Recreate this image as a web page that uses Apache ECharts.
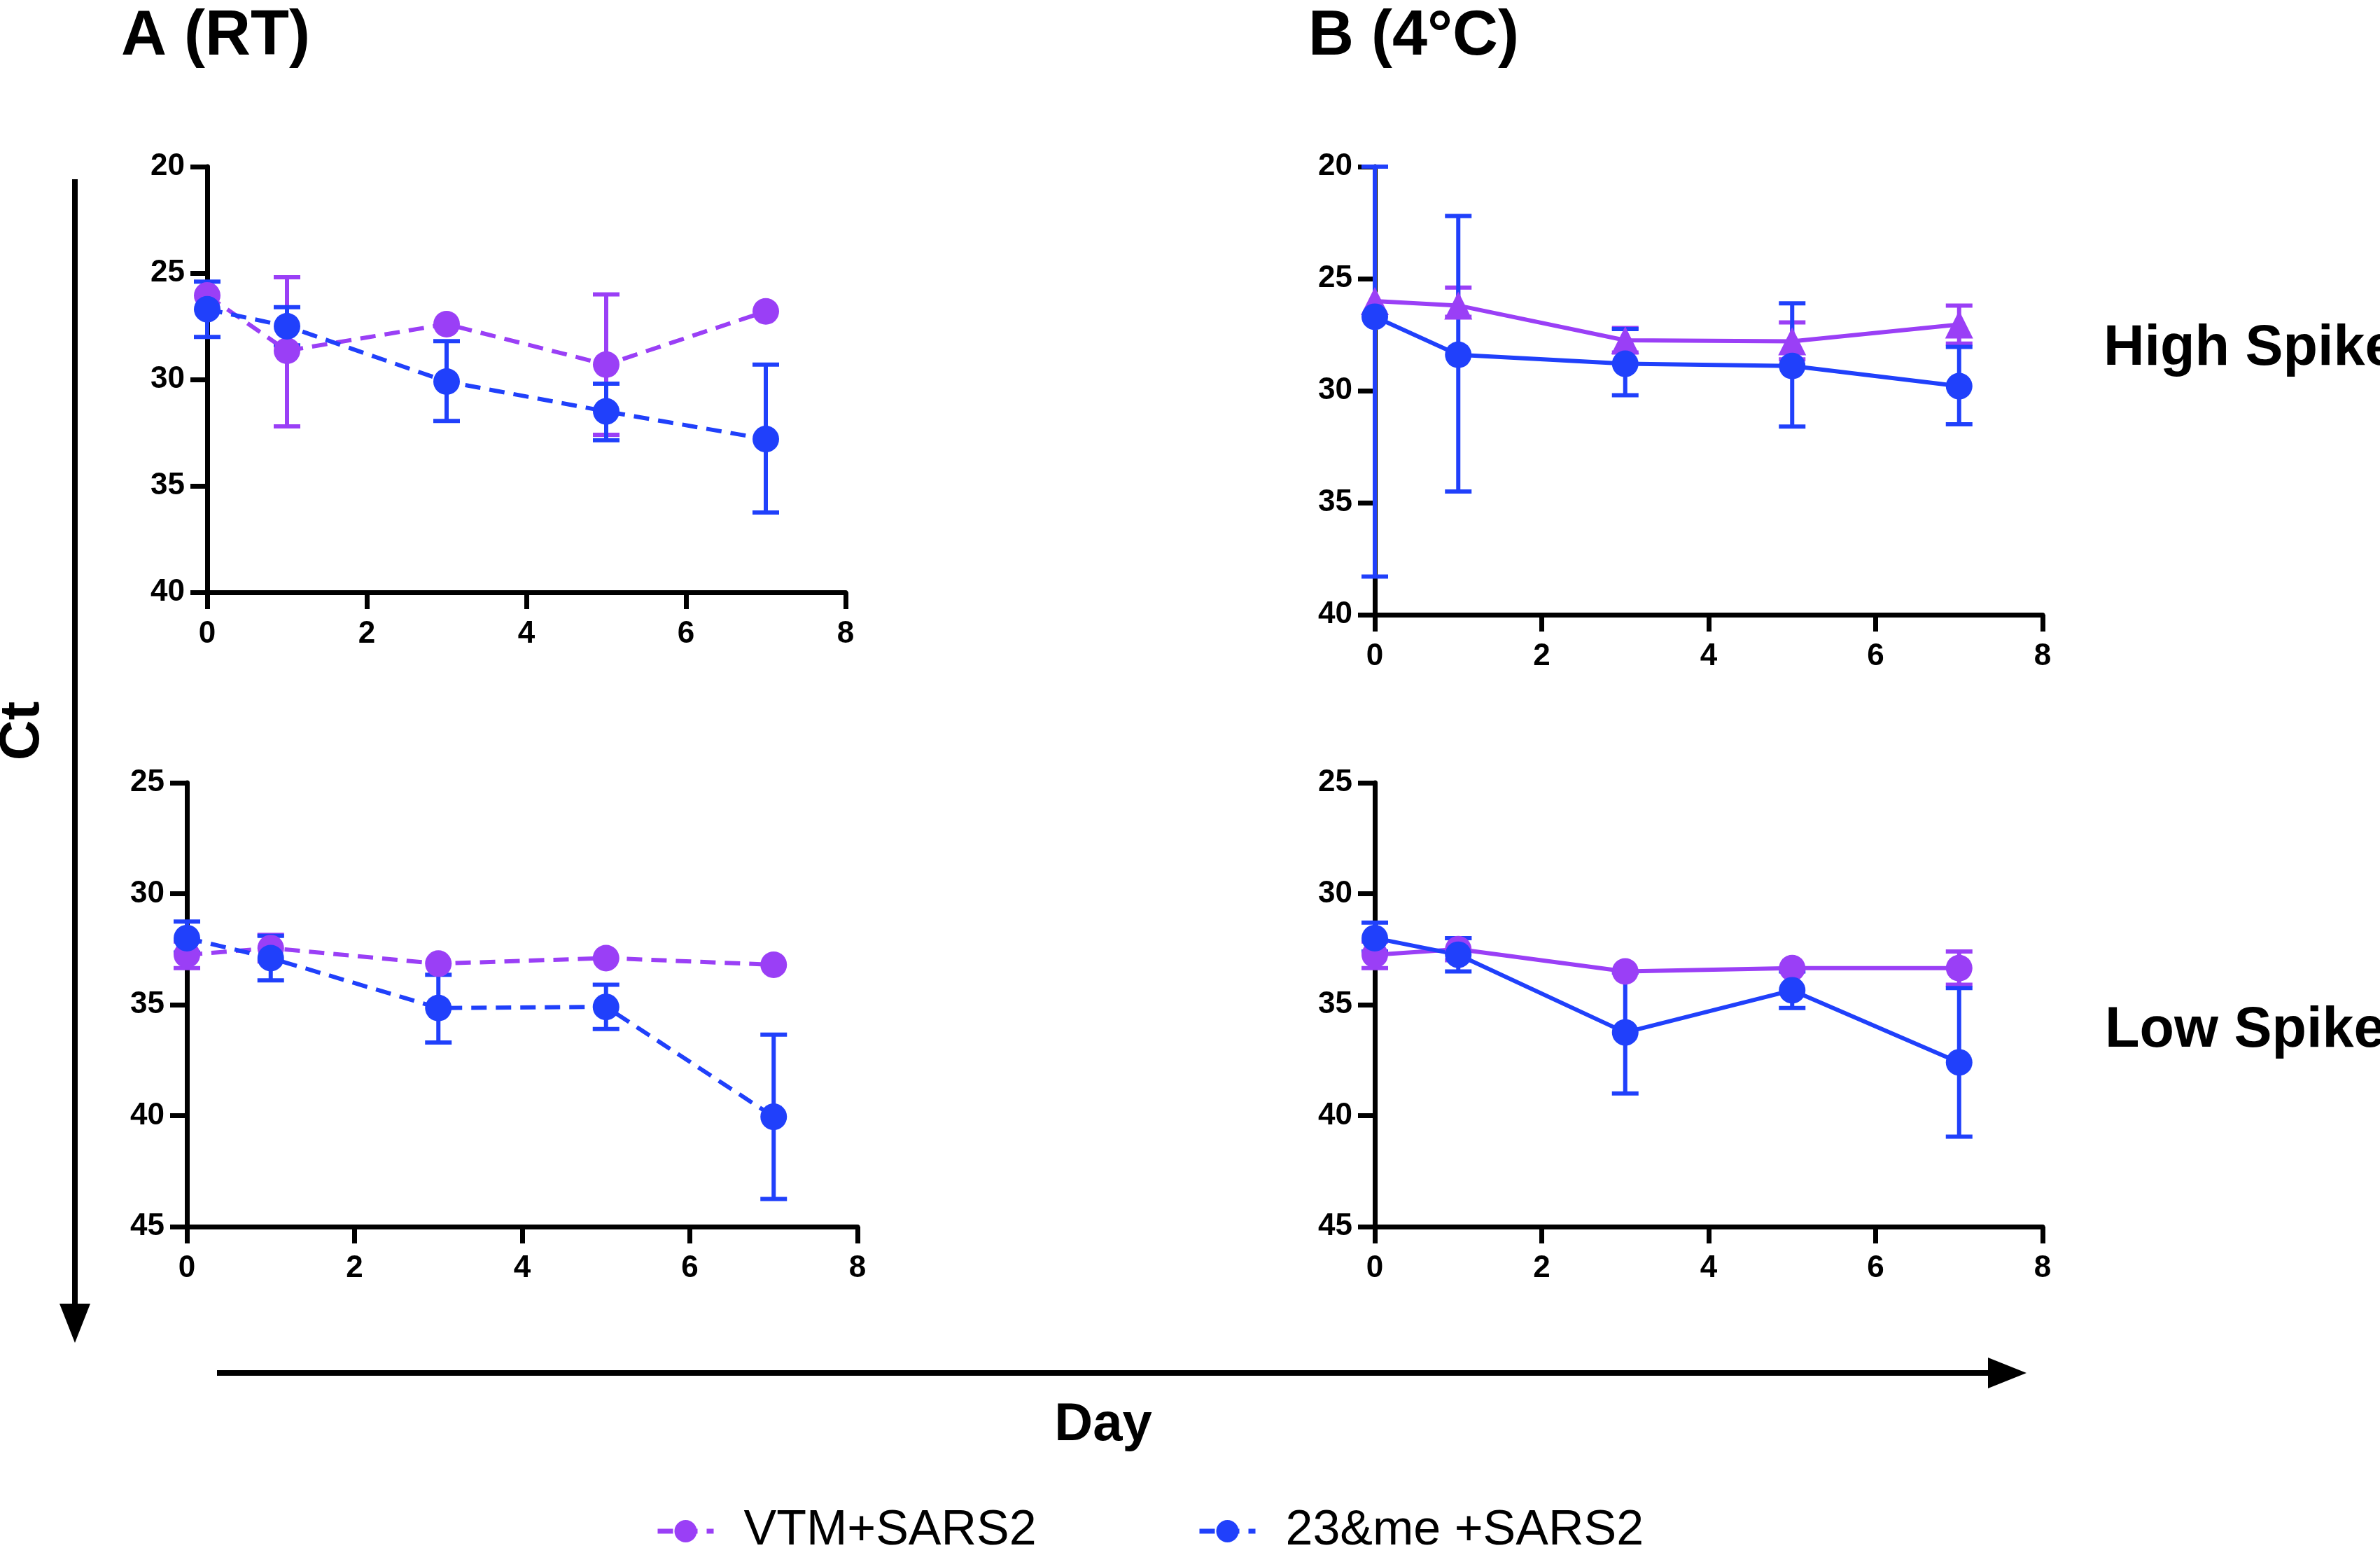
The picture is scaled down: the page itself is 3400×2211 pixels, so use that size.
<!DOCTYPE html>
<html>
<head>
<meta charset="utf-8">
<script src="https://cdn.jsdelivr.net/npm/echarts@6/dist/echarts.min.js"></script>
<style>
html,body{margin:0;padding:0;background:#fff;}
#chart{width:3400px;height:2211px;}
</style>
</head>
<body>
<div id="chart"></div>
<script>
// ---------------- DATA ----------------
const days = [0, 1, 3, 5, 7];
const seriesNames = ['VTM+SARS2', '23&me +SARS2'];
const panelTitles = ['A (RT)', 'B (4\u00B0C)'];
const rowLabels = ['High Spike', 'Low Spike'];
const yAxisTitle = 'Ct';
const xAxisTitle = 'Day';

// Panel A, High Spike (RT)
const aHighVtmMean = [26.05, 28.65, 27.4, 29.3, 26.8];
const aHighVtmLow  = [null, 25.2, null, 26.0, null];
const aHighVtmHigh = [null, 32.2, null, 32.6, null];
const aHighMeMean  = [26.7, 27.5, 30.1, 31.5, 32.8];
const aHighMeLow   = [25.4, 26.6, 28.2, 30.2, 29.3];
const aHighMeHigh  = [28.0, 28.4, 31.95, 32.85, 36.25];

// Panel B, High Spike (4°C)
const bHighVtmMean = [26.0, 26.2, 27.75, 27.8, 27.05];
const bHighVtmLow  = [null, 25.4, 27.2, 26.95, 26.2];
const bHighVtmHigh = [null, 26.7, 28.3, 28.6, 27.9];
const bHighMeMean  = [26.7, 28.4, 28.8, 28.9, 29.8];
const bHighMeLow   = [20.0, 22.2, 27.25, 26.1, 28.05];
const bHighMeHigh  = [38.3, 34.5, 30.2, 31.6, 31.5];

// Panel A, Low Spike (RT)
const aLowVtmMean = [32.75, 32.45, 33.15, 32.9, 33.2];
const aLowVtmLow  = [32.15, 31.85, null, null, null];
const aLowVtmHigh = [33.35, 33.05, null, null, null];
const aLowMeMean  = [32.0, 32.9, 35.15, 35.1, 40.05];
const aLowMeLow   = [31.25, 31.9, 33.65, 34.1, 36.35];
const aLowMeHigh  = [32.65, 33.9, 36.7, 36.1, 43.75];

// Panel B, Low Spike (4°C)
const bLowVtmMean = [32.75, 32.5, 33.5, 33.35, 33.35];
const bLowVtmLow  = [32.15, 32.0, null, null, 32.6];
const bLowVtmHigh = [33.35, 33.0, null, null, 34.1];
const bLowMeMean  = [32.0, 32.75, 36.25, 34.35, 37.6];
const bLowMeLow   = [31.3, 32.0, 33.55, 33.5, 34.25];
const bLowMeHigh  = [32.6, 33.5, 39.0, 35.15, 40.95];

// ---------------- STYLE / LAYOUT ----------------
const PURPLE = '#9a3ff6';
const BLUE = '#2040fb';
const FONT = '"Liberation Sans", Arial, Helvetica, sans-serif';

const panels = [
  { grid: {left: 296, top: 238, width: 912, height: 608}, yMin: 20, yMax: 40, dashed: true, vtmSymbol: 'circle',
    vtm: [aHighVtmMean, aHighVtmLow, aHighVtmHigh], me: [aHighMeMean, aHighMeLow, aHighMeHigh] },
  { grid: {left: 1964, top: 238, width: 954, height: 640}, yMin: 20, yMax: 40, dashed: false, vtmSymbol: 'triangle',
    vtm: [bHighVtmMean, bHighVtmLow, bHighVtmHigh], me: [bHighMeMean, bHighMeLow, bHighMeHigh] },
  { grid: {left: 267, top: 1118, width: 958, height: 634}, yMin: 25, yMax: 45, dashed: true, vtmSymbol: 'circle',
    vtm: [aLowVtmMean, aLowVtmLow, aLowVtmHigh], me: [aLowMeMean, aLowMeLow, aLowMeHigh] },
  { grid: {left: 1964, top: 1118, width: 954, height: 634}, yMin: 25, yMax: 45, dashed: false, vtmSymbol: 'circle',
    vtm: [bLowVtmMean, bLowVtmLow, bLowVtmHigh], me: [bLowMeMean, bLowMeLow, bLowMeHigh] }
];

const axisLine = {show: true, onZero: false, lineStyle: {color: '#000', width: 7}};
const axisTick = {show: true, inside: false, length: 24, lineStyle: {color: '#000', width: 7}};

function errData(mean, lo, hi) {
  const out = [];
  days.forEach((d, i) => { if (lo[i] != null && hi[i] != null) out.push([d, lo[i], hi[i]]); });
  return out;
}
function lineData(mean) { return days.map((d, i) => [d, mean[i]]); }

function errSeries(idx, data, color) {
  return {
    type: 'custom', xAxisIndex: idx, yAxisIndex: idx, data: data, silent: true,
    encode: {x: 0, y: [1, 2]},
    renderItem: function (params, api) {
      const x = api.value(0);
      const p1 = api.coord([x, api.value(1)]);
      const p2 = api.coord([x, api.value(2)]);
      const hw = 19;
      const st = {stroke: color, lineWidth: 6};
      return {type: 'group', children: [
        {type: 'line', shape: {x1: p1[0], y1: p1[1], x2: p2[0], y2: p2[1]}, style: st},
        {type: 'line', shape: {x1: p1[0] - hw, y1: p1[1], x2: p1[0] + hw, y2: p1[1]}, style: st},
        {type: 'line', shape: {x1: p2[0] - hw, y1: p2[1], x2: p2[0] + hw, y2: p2[1]}, style: st}
      ]};
    }
  };
}

function lineSeries(idx, name, data, color, symbol, dashed) {
  return {
    type: 'line', name: name, xAxisIndex: idx, yAxisIndex: idx, data: data,
    symbol: symbol, symbolSize: symbol === 'triangle' ? 40 : 38,
    itemStyle: {color: color},
    lineStyle: {color: color, width: 6, type: dashed ? [22, 13] : 'solid'},
    z: 3
  };
}

const grids = [], xAxes = [], yAxes = [], series = [];
panels.forEach((p, i) => {
  grids.push(Object.assign({containLabel: false}, p.grid));
  xAxes.push({
    type: 'value', gridIndex: i, min: 0, max: 8, interval: 2,
    axisLine: axisLine, axisTick: axisTick, splitLine: {show: false},
    axisLabel: {color: '#000', fontFamily: FONT, fontWeight: 'bold', fontSize: 44, margin: 38}
  });
  yAxes.push({
    type: 'value', gridIndex: i, min: p.yMin, max: p.yMax, interval: 5, inverse: true,
    axisLine: axisLine, axisTick: axisTick, splitLine: {show: false},
    axisLabel: {color: '#000', fontFamily: FONT, fontWeight: 'bold', fontSize: 44, margin: 32}
  });
  series.push(errSeries(i, errData(p.vtm[0], p.vtm[1], p.vtm[2]), PURPLE));
  series.push(lineSeries(i, seriesNames[0], lineData(p.vtm[0]), PURPLE, p.vtmSymbol, p.dashed));
  series.push(errSeries(i, errData(p.me[0], p.me[1], p.me[2]), BLUE));
  series.push(lineSeries(i, seriesNames[1], lineData(p.me[0]), BLUE, 'circle', p.dashed));
});

const legendCommon = {
  orient: 'horizontal', top: 2147, itemWidth: 80, itemHeight: 40,
  lineStyle: {width: 7},
  textStyle: {color: '#000', fontFamily: FONT, fontSize: 70, padding: [0, 0, 0, 38]},
  selectedMode: false
};

const option = {
  animation: false,
  backgroundColor: '#fff',
  grid: grids,
  xAxis: xAxes,
  yAxis: yAxes,
  series: series,
  legend: [
    Object.assign({}, legendCommon, {left: 931, data: [seriesNames[0]]}),
    Object.assign({}, legendCommon, {left: 1705, data: [seriesNames[1]]})
  ],
  graphic: [
    {type: 'text', left: 173, top: 8, style: {text: panelTitles[0], font: 'bold 90px ' + FONT, fill: '#000'}},
    {type: 'text', left: 1869, top: 8, style: {text: panelTitles[1], font: 'bold 90px ' + FONT, fill: '#000'}},
    {type: 'text', x: 3005, y: 499, style: {text: rowLabels[0], font: 'bold 81px ' + FONT, fill: '#000', textAlign: 'left', textVerticalAlign: 'middle'}},
    {type: 'text', x: 3007, y: 1473, style: {text: rowLabels[1], font: 'bold 81px ' + FONT, fill: '#000', textAlign: 'left', textVerticalAlign: 'middle'}},
    {type: 'text', x: 33, y: 1044, rotation: Math.PI / 2, style: {text: yAxisTitle, font: 'bold 80px ' + FONT, fill: '#000', textAlign: 'center', textVerticalAlign: 'middle'}},
    {type: 'text', x: 1576, y: 2036, style: {text: xAxisTitle, font: 'bold 76px ' + FONT, fill: '#000', textAlign: 'center', textVerticalAlign: 'middle'}},
    // vertical arrow
    {type: 'line', shape: {x1: 107, y1: 256, x2: 107, y2: 1866}, style: {stroke: '#000', lineWidth: 8}},
    {type: 'polygon', shape: {points: [[85, 1862], [129, 1862], [107, 1918]]}, style: {fill: '#000'}},
    // horizontal arrow
    {type: 'line', shape: {x1: 310, y1: 1961, x2: 2844, y2: 1961}, style: {stroke: '#000', lineWidth: 8}},
    {type: 'polygon', shape: {points: [[2840, 1939], [2840, 1983], [2895, 1961]]}, style: {fill: '#000'}}
  ]
};

const chart = echarts.init(document.getElementById('chart'), null, {renderer: 'canvas'});
chart.setOption(option);
</script>
</body>
</html>
